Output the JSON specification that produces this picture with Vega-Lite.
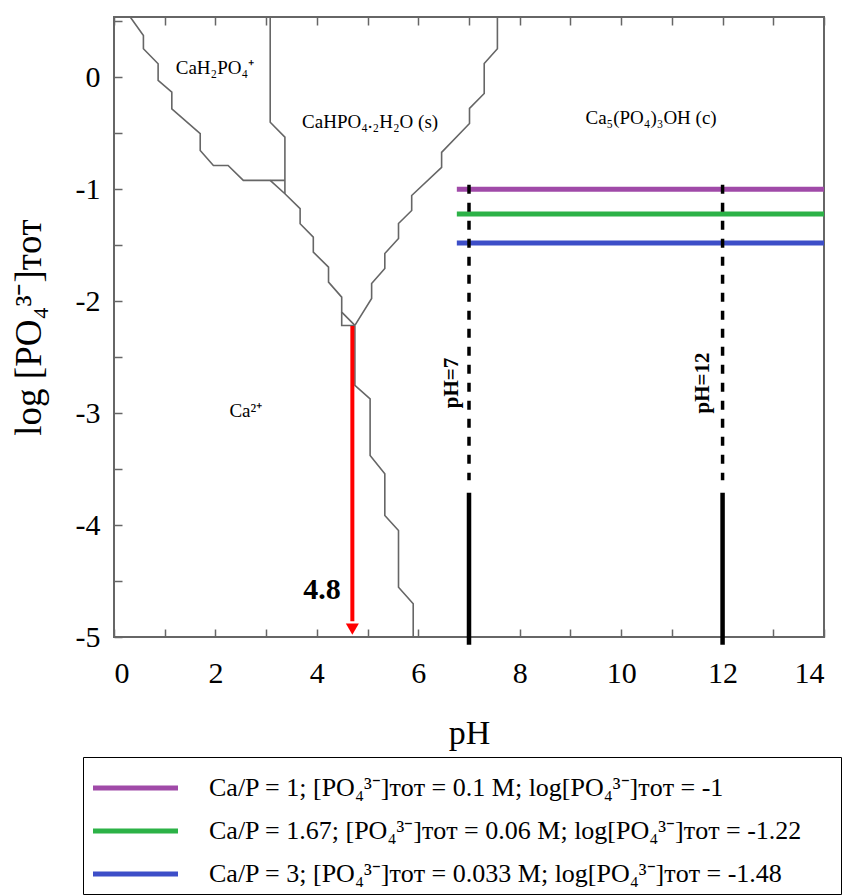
{
  "$schema": "https://vega.github.io/schema/vega-lite/v6.json",
  "autosize": "none",
  "width": 710,
  "height": 620,
  "padding": {"left": 114, "top": 17, "right": 29, "bottom": 258},
  "background": "white",
  "config": {
    "font": "Liberation Serif",
    "view": {"stroke": "#666666", "strokeWidth": 2},
    "axis": {"domain": false, "grid": false, "tickColor": "#666666", "tickWidth": 1.5, "labelColor": "black", "titleColor": "black", "labelFont": "Liberation Serif", "titleFont": "Liberation Serif", "titleFontWeight": "normal"},
    "legend": {"labelFont": "Liberation Serif", "titleFont": "Liberation Serif"},
    "text": {"font": "Liberation Serif"}
  },
  "datasets": {
    "bounds": [
      {"seg": "A", "ord": 1, "ph": 0.32, "lg": 0.54},
      {"seg": "A", "ord": 2, "ph": 0.58, "lg": 0.375},
      {"seg": "A", "ord": 3, "ph": 0.58, "lg": 0.256},
      {"seg": "A", "ord": 4, "ph": 0.87, "lg": 0.122},
      {"seg": "A", "ord": 5, "ph": 0.87, "lg": -0.027},
      {"seg": "A", "ord": 6, "ph": 1.14, "lg": -0.131},
      {"seg": "A", "ord": 7, "ph": 1.14, "lg": -0.28},
      {"seg": "A", "ord": 8, "ph": 1.7, "lg": -0.503},
      {"seg": "A", "ord": 9, "ph": 1.7, "lg": -0.653},
      {"seg": "A", "ord": 10, "ph": 1.96, "lg": -0.787},
      {"seg": "A", "ord": 11, "ph": 2.25, "lg": -0.787},
      {"seg": "A", "ord": 12, "ph": 2.55, "lg": -0.92},
      {"seg": "A", "ord": 13, "ph": 3.37, "lg": -0.92},
      {"seg": "B", "ord": 1, "ph": 3.08, "lg": 0.54},
      {"seg": "B", "ord": 2, "ph": 3.08, "lg": -0.4},
      {"seg": "B", "ord": 3, "ph": 3.37, "lg": -0.534},
      {"seg": "B", "ord": 4, "ph": 3.37, "lg": -1.039},
      {"seg": "C", "ord": 1, "ph": 3.08, "lg": -0.92},
      {"seg": "C", "ord": 2, "ph": 3.37, "lg": -1.039},
      {"seg": "C", "ord": 3, "ph": 3.67, "lg": -1.173},
      {"seg": "C", "ord": 4, "ph": 3.67, "lg": -1.307},
      {"seg": "C", "ord": 5, "ph": 3.93, "lg": -1.427},
      {"seg": "C", "ord": 6, "ph": 3.93, "lg": -1.561},
      {"seg": "C", "ord": 7, "ph": 4.23, "lg": -1.695},
      {"seg": "C", "ord": 8, "ph": 4.23, "lg": -1.829},
      {"seg": "C", "ord": 9, "ph": 4.49, "lg": -1.963},
      {"seg": "C", "ord": 10, "ph": 4.49, "lg": -2.097},
      {"seg": "C", "ord": 11, "ph": 4.75, "lg": -2.216},
      {"seg": "D", "ord": 1, "ph": 7.56, "lg": 0.54},
      {"seg": "D", "ord": 2, "ph": 7.56, "lg": 0.256},
      {"seg": "D", "ord": 3, "ph": 7.3, "lg": 0.125},
      {"seg": "D", "ord": 4, "ph": 7.3, "lg": -0.143},
      {"seg": "D", "ord": 5, "ph": 7.01, "lg": -0.277},
      {"seg": "D", "ord": 6, "ph": 7.01, "lg": -0.411},
      {"seg": "D", "ord": 7, "ph": 6.46, "lg": -0.67},
      {"seg": "D", "ord": 8, "ph": 6.46, "lg": -0.804},
      {"seg": "D", "ord": 9, "ph": 5.87, "lg": -1.055},
      {"seg": "D", "ord": 10, "ph": 5.87, "lg": -1.189},
      {"seg": "D", "ord": 11, "ph": 5.61, "lg": -1.305},
      {"seg": "D", "ord": 12, "ph": 5.61, "lg": -1.439},
      {"seg": "D", "ord": 13, "ph": 5.34, "lg": -1.573},
      {"seg": "D", "ord": 14, "ph": 5.34, "lg": -1.707},
      {"seg": "D", "ord": 15, "ph": 5.08, "lg": -1.841},
      {"seg": "D", "ord": 16, "ph": 5.08, "lg": -1.975},
      {"seg": "D", "ord": 17, "ph": 4.75, "lg": -2.216},
      {"seg": "E", "ord": 1, "ph": 4.75, "lg": -2.216},
      {"seg": "E", "ord": 2, "ph": 4.75, "lg": -2.752},
      {"seg": "E", "ord": 3, "ph": 5.05, "lg": -2.872},
      {"seg": "E", "ord": 4, "ph": 5.05, "lg": -3.378},
      {"seg": "E", "ord": 5, "ph": 5.34, "lg": -3.541},
      {"seg": "E", "ord": 6, "ph": 5.34, "lg": -3.914},
      {"seg": "E", "ord": 7, "ph": 5.61, "lg": -4.048},
      {"seg": "E", "ord": 8, "ph": 5.61, "lg": -4.555},
      {"seg": "E", "ord": 9, "ph": 5.9, "lg": -4.703},
      {"seg": "E", "ord": 10, "ph": 5.9, "lg": -5.0},
      {"seg": "F", "ord": 1, "ph": 4.49, "lg": -2.097},
      {"seg": "F", "ord": 2, "ph": 4.49, "lg": -2.216},
      {"seg": "F", "ord": 3, "ph": 4.75, "lg": -2.216}
    ],
    "levels": [
      {"series": "Ca/P = 1; [PO₄³⁻]ᴛᴏᴛ = 0.1 M; log[PO₄³⁻]ᴛᴏᴛ = -1", "ph1": 6.76, "ph2": 14, "lg": -1.0},
      {"series": "Ca/P = 1.67; [PO₄³⁻]ᴛᴏᴛ = 0.06 M; log[PO₄³⁻]ᴛᴏᴛ = -1.22", "ph1": 6.76, "ph2": 14, "lg": -1.22},
      {"series": "Ca/P = 3; [PO₄³⁻]ᴛᴏᴛ = 0.033 M; log[PO₄³⁻]ᴛᴏᴛ = -1.48", "ph1": 6.76, "ph2": 14, "lg": -1.48}
    ],
    "markers": [
      {"ph": 7, "dashTop": -0.96, "dashBottom": -3.6, "solidTop": -3.71, "solidBottom": -5.07},
      {"ph": 12, "dashTop": -0.96, "dashBottom": -3.6, "solidTop": -3.71, "solidBottom": -5.07}
    ],
    "regions": [
      {"label": "CaH₂PO₄⁺", "ph": 1.99, "lg": 0.08},
      {"label": "CaHPO₄.₂H₂O (s)", "ph": 5.05, "lg": -0.4},
      {"label": "Ca₅(PO₄)₃OH (c)", "ph": 10.59, "lg": -0.36},
      {"label": "Ca²⁺", "ph": 2.6, "lg": -2.98}
    ],
    "phLabels": [
      {"label": "pH=7", "ph": 6.67, "lg": -2.73},
      {"label": "pH=12", "ph": 11.61, "lg": -2.73}
    ],
    "arrow": [
      {"ph": 4.7, "top": -2.22, "bottom": -4.86, "tip": -4.93, "label": "4.8", "labelPh": 4.1, "labelLg": -4.58}
    ]
  },
  "resolve": {"axis": {"x": "independent", "y": "independent"}},
  "layer": [
    {
      "data": {"name": "bounds"},
      "mark": {"type": "line", "color": "#666666", "strokeWidth": 1.6},
      "encoding": {
        "x": {"field": "ph", "type": "quantitative",
              "scale": {"domain": [0, 14], "nice": false, "zero": false},
              "axis": {"orient": "bottom", "values": [0,1,2,3,4,5,6,7,8,9,10,11,12,13,14],
                       "labelExpr": "datum.value % 2 === 0 ? datum.label : ''",
                       "labelFont": "Liberation Serif", "titleFont": "Liberation Serif",
                       "tickSize": -8, "labelPadding": 29, "labelFontSize": 30,
                       "title": "pH", "titleFontSize": 34, "titlePadding": 28}},
        "y": {"field": "lg", "type": "quantitative",
              "scale": {"domain": [-5, 0.54], "nice": false, "zero": false},
              "axis": {"orient": "left", "values": [-5,-4.5,-4,-3.5,-3,-2.5,-2,-1.5,-1,-0.5,0,0.5],
                       "labelExpr": "datum.value % 1 === 0 ? (datum.value < 0 ? '-' + abs(datum.value) : '' + datum.value) : ''",
                       "labelFont": "Liberation Serif", "titleFont": "Liberation Serif",
                       "tickSize": -8, "labelPadding": 22, "labelFontSize": 30,
                       "title": "log [PO₄³⁻]ᴛᴏᴛ", "titleFontSize": 37, "titlePadding": 27}},
        "detail": {"field": "seg"},
        "order": {"field": "ord", "type": "quantitative"}
      }
    },
    {
      "data": {"name": "levels"},
      "mark": {"type": "rule", "strokeWidth": 5},
      "encoding": {
        "x": {"field": "ph1", "type": "quantitative",
              "axis": {"orient": "top", "values": [0,1,2,3,4,5,6,7,8,9,10,11,12,13,14], "labels": false, "tickSize": -8, "title": null}},
        "x2": {"field": "ph2"},
        "y": {"field": "lg", "type": "quantitative", "axis": null},
        "color": {"field": "series", "type": "nominal",
                  "scale": {"domain": [
                    "Ca/P = 1; [PO₄³⁻]ᴛᴏᴛ = 0.1 M; log[PO₄³⁻]ᴛᴏᴛ = -1",
                    "Ca/P = 1.67; [PO₄³⁻]ᴛᴏᴛ = 0.06 M; log[PO₄³⁻]ᴛᴏᴛ = -1.22",
                    "Ca/P = 3; [PO₄³⁻]ᴛᴏᴛ = 0.033 M; log[PO₄³⁻]ᴛᴏᴛ = -1.48"],
                    "range": ["#a04aa8", "#2cb247", "#3d4ec8"]},
                  "legend": {"orient": "none", "legendX": -31, "legendY": 740,
                             "title": " ", "titleFontSize": 10, "titlePadding": 1,
                             "symbolType": "M-2,0H15", "symbolSize": 100, "symbolStrokeWidth": 5,
                             "labelOffset": 93, "labelFontSize": 26, "labelFont": "Liberation Serif", "labelColor": "black",
                             "labelLimit": 1200, "rowPadding": 17, "padding": 7, "strokeColor": "black",
                             "labelExpr": "datum.label + '\u2003\u2009\u200b'"}}
      }
    },
    {
      "data": {"name": "markers"},
      "mark": {"type": "rule", "color": "black", "strokeWidth": 3.5, "strokeDash": [9, 9]},
      "encoding": {
        "x": {"field": "ph", "type": "quantitative", "axis": null},
        "y": {"field": "dashTop", "type": "quantitative", "axis": null},
        "y2": {"field": "dashBottom"}
      }
    },
    {
      "data": {"name": "markers"},
      "mark": {"type": "rule", "color": "black", "strokeWidth": 4.5, "clip": false},
      "encoding": {
        "x": {"field": "ph", "type": "quantitative", "axis": null},
        "y": {"field": "solidTop", "type": "quantitative", "axis": null},
        "y2": {"field": "solidBottom"}
      }
    },
    {
      "data": {"name": "arrow"},
      "mark": {"type": "rule", "color": "#ff0000", "strokeWidth": 4},
      "encoding": {
        "x": {"field": "ph", "type": "quantitative", "axis": null},
        "y": {"field": "top", "type": "quantitative", "axis": null},
        "y2": {"field": "bottom"}
      }
    },
    {
      "data": {"name": "arrow"},
      "mark": {"type": "point", "shape": "triangle-down", "filled": true, "color": "#ff0000", "size": 170, "opacity": 1},
      "encoding": {
        "x": {"field": "ph", "type": "quantitative", "axis": null},
        "y": {"field": "tip", "type": "quantitative", "axis": null}
      }
    },
    {
      "data": {"name": "arrow"},
      "mark": {"type": "text", "fontWeight": "bold", "fontSize": 30, "color": "black", "font": "Liberation Serif"},
      "encoding": {
        "x": {"field": "labelPh", "type": "quantitative", "axis": null},
        "y": {"field": "labelLg", "type": "quantitative", "axis": null},
        "text": {"field": "label"}
      }
    },
    {
      "data": {"name": "regions"},
      "mark": {"type": "text", "fontSize": 19, "color": "black", "font": "Liberation Serif"},
      "encoding": {
        "x": {"field": "ph", "type": "quantitative", "axis": null},
        "y": {"field": "lg", "type": "quantitative", "axis": null},
        "text": {"field": "label"}
      }
    },
    {
      "data": {"name": "phLabels"},
      "mark": {"type": "text", "fontSize": 21, "fontWeight": "bold", "angle": 270, "color": "black", "font": "Liberation Serif"},
      "encoding": {
        "x": {"field": "ph", "type": "quantitative", "axis": null},
        "y": {"field": "lg", "type": "quantitative", "axis": null},
        "text": {"field": "label"}
      }
    }
  ]
}
